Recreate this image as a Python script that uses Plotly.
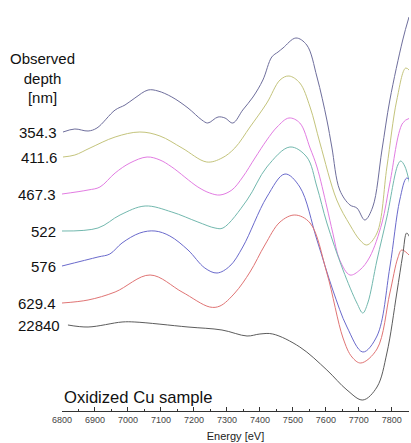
import plotly.graph_objects as go

# Observed depth labels (nm)
depths = ["354.3", "411.6", "467.3", "522", "576", "629.4", "22840"]
colors = ["#6e6e9c", "#c4c47c", "#e27ce2", "#72b8ae", "#6a6acc", "#e07474", "#5c5c5c"]

# Energy [eV] and offset normalized absorption (a.u.) for each depth
e1 = [6803, 6839, 6879, 6906, 6961, 6991, 7021, 7061, 7091, 7133, 7182, 7224, 7242, 7273, 7294, 7318,
      7348, 7379, 7409, 7436, 7455, 7470, 7509, 7542, 7573, 7603, 7618, 7642, 7673, 7694, 7718, 7742,
      7770, 7794, 7833, 7852]
a1 = [2.79, 2.82, 2.80, 2.83, 3.01, 3.06, 3.13, 3.21, 3.20, 3.14, 3.03, 2.91, 2.88, 2.94, 2.93, 2.88,
      3.01, 3.14, 3.31, 3.54, 3.59, 3.63, 3.73, 3.66, 3.34, 2.91, 2.64, 2.21, 2.06, 2.03, 1.91, 2.04,
      2.61, 3.11, 3.71, 3.94]

e2 = [6803, 6839, 6885, 6961, 7036, 7097, 7164, 7239, 7285, 7324, 7370, 7421, 7461, 7488, 7521, 7552,
      7582, 7633, 7673, 7703, 7724, 7755, 7785, 7815, 7842, 7855]
a2 = [2.54, 2.56, 2.63, 2.74, 2.79, 2.75, 2.63, 2.49, 2.53, 2.63, 2.84, 3.08, 3.31, 3.35, 3.28, 3.04,
      2.68, 2.11, 1.86, 1.71, 1.66, 1.78, 2.44, 3.11, 3.43, 3.40]

e3 = [6800, 6879, 6915, 6961, 7006, 7058, 7097, 7133, 7212, 7248, 7279, 7315, 7348, 7385, 7421, 7452,
      7488, 7521, 7552, 7573, 7603, 7621, 7642, 7673, 7703, 7733, 7770, 7794, 7833, 7855]
a3 = [2.17, 2.21, 2.24, 2.38, 2.48, 2.54, 2.51, 2.44, 2.24, 2.18, 2.16, 2.21, 2.34, 2.53, 2.71, 2.84,
      2.93, 2.88, 2.63, 2.44, 2.04, 1.78, 1.51, 1.36, 1.41, 1.54, 1.88, 2.28, 2.88, 2.93]

e4 = [6800, 6909, 6976, 7052, 7133, 7212, 7264, 7288, 7361, 7421, 7491, 7542, 7573, 7603, 7652, 7694,
      7712, 7727, 7755, 7785, 7818, 7827, 7839, 7855]
a4 = [1.80, 1.83, 1.96, 2.05, 1.99, 1.89, 1.83, 1.83, 2.11, 2.44, 2.64, 2.54, 2.24, 1.88, 1.41, 1.08,
      0.98, 1.08, 1.51, 1.94, 2.46, 2.50, 2.45, 2.26]

e5 = [6800, 6909, 6945, 6982, 7036, 7082, 7127, 7182, 7233, 7270, 7309, 7348, 7421, 7476, 7521, 7573,
      7621, 7664, 7712, 7755, 7794, 7824, 7845, 7858]
a5 = [1.45, 1.54, 1.57, 1.68, 1.78, 1.80, 1.75, 1.61, 1.43, 1.38, 1.45, 1.64, 2.14, 2.37, 2.24, 1.71,
      1.21, 0.84, 0.59, 0.75, 1.44, 2.11, 2.33, 2.30]

e6 = [6800, 6879, 6961, 7067, 7164, 7248, 7279, 7324, 7370, 7415, 7461, 7506, 7552, 7603, 7652, 7679,
      7706, 7755, 7794, 7818, 7830, 7858]
a6 = [1.08, 1.11, 1.19, 1.36, 1.19, 1.04, 1.05, 1.18, 1.39, 1.66, 1.89, 1.96, 1.88, 1.38, 0.73, 0.54,
      0.48, 0.62, 1.18, 1.53, 1.61, 1.54]

e7 = [6818, 6879, 6982, 7021, 7182, 7285, 7361, 7400, 7439, 7521, 7603, 7664, 7712, 7755, 7785, 7815,
      7833, 7845, 7858]
a7 = [0.86, 0.84, 0.89, 0.89, 0.84, 0.81, 0.75, 0.77, 0.77, 0.64, 0.41, 0.21, 0.11, 0.24, 0.58, 1.18,
      1.56, 1.78, 1.71]

energies = [e1, e2, e3, e4, e5, e6, e7]
absorb = [a1, a2, a3, a4, a5, a6, a7]

x_ticks = [6800, 6900, 7000, 7100, 7200, 7300, 7400, 7500, 7600, 7700, 7800]

FONT = "Liberation Sans, Arial, sans-serif"

fig = go.Figure()
for e, a, c, d in zip(energies, absorb, colors, depths):
    fig.add_trace(go.Scatter(x=e, y=a, mode="lines", name=d,
                             line=dict(color=c, width=1, shape="spline", smoothing=1.0),
                             hoverinfo="skip"))

annotations = []
for e, a, d in zip(energies, absorb, depths):
    annotations.append(dict(x=e[0], y=a[0], xref="x", yref="y", text=d, showarrow=False,
                            xanchor="right", yanchor="middle", xshift=-4 if e[0] < 6805 else -6,
                            font=dict(family=FONT, size=15, color="#111111")))

annotations.append(dict(x=-0.055, y=0.81, xref="paper", yref="paper",
                        text="Observed<br>depth<br>[nm]", showarrow=False, align="center",
                        xanchor="center", yanchor="middle",
                        font=dict(family=FONT, size=15, color="#111111")))
annotations.append(dict(x=0.0, y=0.034, xref="paper", yref="paper",
                        text="Oxidized Cu sample", showarrow=False,
                        xanchor="left", yanchor="middle",
                        font=dict(family=FONT, size=16.6, color="#111111")))

fig.update_layout(
    width=411, height=443,
    margin=dict(l=62, r=2, t=0, b=32),
    paper_bgcolor="white", plot_bgcolor="white",
    showlegend=False,
    annotations=annotations,
    xaxis=dict(range=[6800, 7852], tickvals=x_ticks, showgrid=False, zeroline=False,
               showline=True, linecolor="#333333", linewidth=1,
               ticks="inside", ticklen=4, tickcolor="#333333",
               minor=dict(ticks="inside", ticklen=2, dtick=50, tick0=6800, tickcolor="#333333"),
               tickfont=dict(family=FONT, size=9, color="#444444"),
               automargin=False,
               title=dict(text="Energy [eV]", font=dict(family=FONT, size=11, color="#222222"),
                          standoff=8)),
    yaxis=dict(range=[0, 4.11], visible=False, showgrid=False, zeroline=False),
)

fig.write_html("out.html", config={"displayModeBar": False},
               post_script="document.body.style.margin='0';document.body.style.overflow='hidden';")
